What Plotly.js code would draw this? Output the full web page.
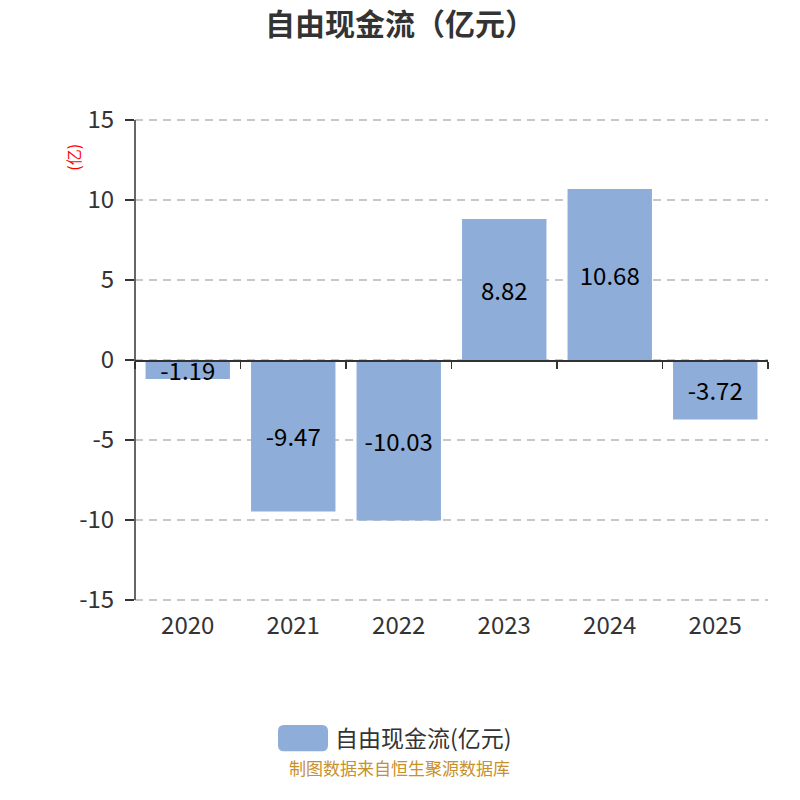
<!DOCTYPE html>
<html>
<head>
<meta charset="utf-8">
<script src="https://cdn.plot.ly/plotly-3.0.1.min.js"></script>
<style>
  html, body { margin: 0; padding: 0; background: #fff; }
  #chart { width: 800px; height: 800px; }
</style>
</head>
<body>
<div id="chart"></div>
<script>
/* global Plotly */

// data
const years = ['2020', '2021', '2022', '2023', '2024', '2025'];
const freeCashFlow = [-1.19, -9.47, -10.03, 8.82, 10.68, -3.72];
const yTicks = [-15, -10, -5, 0, 5, 10, 15];

const seriesName = '自由现金流(亿元)';
const barColor = '#8eadd9';
const fontFamily = '"Noto Sans CJK SC", "Noto Sans", sans-serif';

const bars = {
  type: 'bar',
  x: years,
  y: freeCashFlow,
  xaxis: 'x',
  yaxis: 'y',
  name: seriesName,
  marker: { color: barColor },
  text: freeCashFlow.map((v) => v.toFixed(2)),
  textposition: 'inside',
  insidetextanchor: 'middle',
  constraintext: 'none',
  textfont: { family: fontFamily, size: 24, color: '#000' },
  hoverinfo: 'x+y',
  showlegend: false,
};

// invisible carrier so the bottom label axis gets drawn
const labelCarrier = {
  type: 'scatter',
  mode: 'markers',
  x: years,
  y: freeCashFlow,
  xaxis: 'x2',
  yaxis: 'y',
  marker: { opacity: 0 },
  hoverinfo: 'skip',
  showlegend: false,
};

const layout = {
  width: 800,
  height: 800,
  margin: { l: 135, r: 32, t: 118, b: 198 },
  paper_bgcolor: '#fff',
  plot_bgcolor: '#fff',
  font: { family: fontFamily, color: '#333' },
  bargap: 0.2,
  showlegend: false,
  title: {
    text: '<b>自由现金流（亿元）</b>',
    font: { family: fontFamily, size: 30, color: '#333' },
    x: 0.5,
    xanchor: 'center',
    y: 0.97,
    yanchor: 'middle',
  },
  // axis line through zero, ticks between categories
  xaxis: {
    type: 'category',
    categoryarray: years,
    range: [-0.5, 5.5],
    anchor: 'free',
    position: 0.5,
    showline: true,
    linecolor: '#333',
    linewidth: 1.5,
    ticks: 'outside',
    tickson: 'boundaries',
    ticklen: 7,
    tickwidth: 1.5,
    tickcolor: '#333',
    showticklabels: false,
    showgrid: false,
    zeroline: false,
    fixedrange: true,
  },
  // category labels at the bottom
  xaxis2: {
    type: 'category',
    categoryarray: years,
    range: [-0.5, 5.5],
    overlaying: 'x',
    anchor: 'y',
    side: 'bottom',
    showline: false,
    showgrid: false,
    zeroline: false,
    ticks: 'outside',
    ticklen: 2,
    tickcolor: 'rgba(0,0,0,0)',
    tickfont: { family: fontFamily, size: 24, color: '#333' },
  },
  // slightly padded range so the +-15 grid lines are kept
  yaxis: {
    range: [-15.125, 15.125],
    tickvals: yTicks,
    ticktext: yTicks.map(String),
    showline: false,
    ticks: 'outside',
    ticklen: 9,
    tickwidth: 1.5,
    tickcolor: '#333',
    ticklabelstandoff: 6,
    tickfont: { family: fontFamily, size: 24, color: '#333' },
    showgrid: true,
    gridcolor: '#c8c8c8',
    griddash: '8px,6px',
    gridwidth: 1.5,
    zeroline: false,
  },
  annotations: [
    {
      text: '(亿)',
      xref: 'paper', yref: 'paper',
      x: -0.098, y: 0.92,
      xanchor: 'center', yanchor: 'middle',
      textangle: -90,
      showarrow: false,
      font: { family: fontFamily, size: 16, color: '#ff0000' },
    },
    {
      text: seriesName,
      xref: 'paper', yref: 'paper',
      x: 0.313, y: -0.278,
      xanchor: 'left', yanchor: 'middle',
      showarrow: false,
      font: { family: fontFamily, size: 23, color: '#333' },
    },
    {
      text: '制图数据来自恒生聚源数据库',
      xref: 'paper', yref: 'paper',
      x: 0.4186, y: -0.3417,
      xanchor: 'center', yanchor: 'middle',
      showarrow: false,
      font: { family: fontFamily, size: 17, color: '#c8902a' },
    },
  ],
  shapes: [
    // y axis line between the outer ticks
    {
      type: 'line',
      xref: 'paper', yref: 'y',
      x0: 0, x1: 0, y0: yTicks[0], y1: yTicks[yTicks.length - 1],
      line: { color: '#333', width: 1.5 },
    },
    // legend swatch (rounded)
    {
      type: 'path',
      xref: 'paper', yref: 'paper',
      path: 'M 0.2354 -0.2542 L 0.2954 -0.2542 Q 0.3049 -0.2542 0.3049 -0.2667 L 0.3049 -0.2958 Q 0.3049 -0.3083 0.2954 -0.3083 L 0.2354 -0.3083 Q 0.2259 -0.3083 0.2259 -0.2958 L 0.2259 -0.2667 Q 0.2259 -0.2542 0.2354 -0.2542 Z',
      fillcolor: barColor,
      line: { width: 0 },
    },
  ],
};

Plotly.newPlot('chart', [bars, labelCarrier], layout, { displayModeBar: false, staticPlot: true });
</script>
</body>
</html>
